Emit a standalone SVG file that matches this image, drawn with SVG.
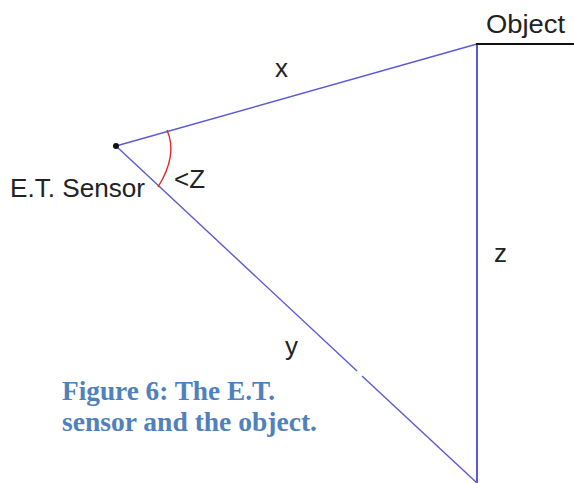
<svg xmlns="http://www.w3.org/2000/svg" width="574" height="483" viewBox="0 0 574 483">
<style>
.ln{stroke:#5a5ad8;stroke-width:1.4;fill:none}
.lbl{font-family:"Liberation Sans",Arial,sans-serif;font-size:26px;fill:#222}
.cap{font-family:"Liberation Serif","Times New Roman",serif;font-weight:bold;font-size:27px;fill:#4f81bd}
</style>
<rect width="574" height="483" fill="#fff"/>
<g id="connectors">
<line class="ln" x1="116" y1="146" x2="477" y2="44"/>
<line class="ln" x1="116" y1="146" x2="357" y2="371"/>
<line class="ln" x1="362" y1="376" x2="477" y2="483"/>
<line class="ln" x1="477" y1="44" x2="477" y2="483" style="stroke-width:2"/>
<line x1="476" y1="44" x2="574" y2="44" stroke="#111" stroke-width="1.8"/>
<path d="M167,130 Q178,155 158,187" stroke="#e02a2a" stroke-width="1.4" fill="none"/>
</g>
<g id="sensor">
<circle cx="116" cy="146" r="3" fill="#111"/>
<text class="lbl" x="10" y="197" textLength="135" lengthAdjust="spacingAndGlyphs">E.T. Sensor</text>
</g>
<g id="object">
<text class="lbl" x="486" y="33" textLength="79" lengthAdjust="spacingAndGlyphs">Object</text>
</g>
<g id="labels">
<text class="lbl" x="275" y="77">x</text>
<text class="lbl" x="285" y="355">y</text>
<text class="lbl" x="494" y="262">z</text>
<text class="lbl" x="174" y="188">&lt;Z</text>
</g>
<g id="caption">
<text class="cap" x="62" y="400" textLength="213" lengthAdjust="spacingAndGlyphs">Figure 6: The E.T.</text>
<text class="cap" x="62" y="431" textLength="255" lengthAdjust="spacingAndGlyphs">sensor and the object.</text>
</g>
</svg>
